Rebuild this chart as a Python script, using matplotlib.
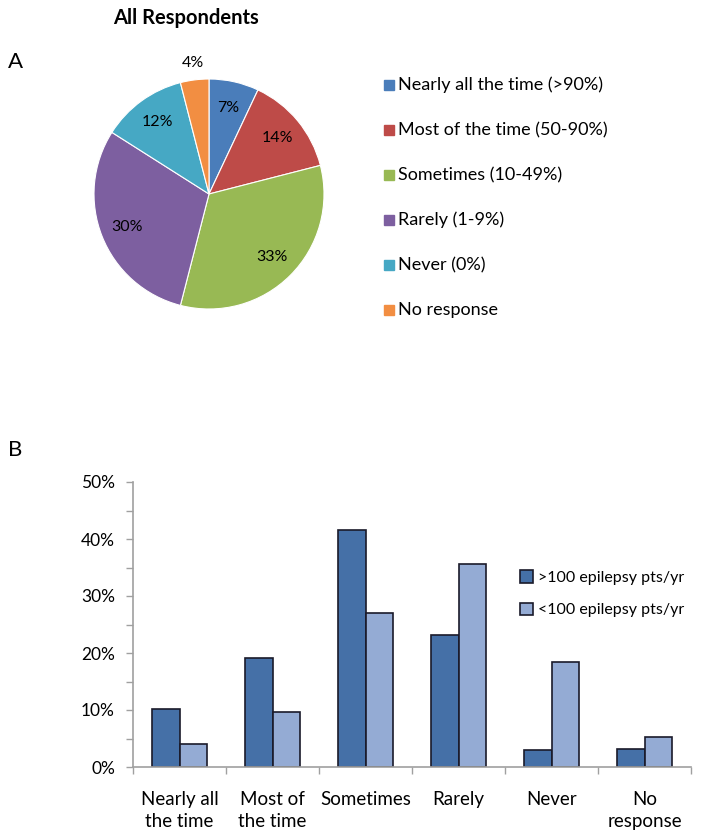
import numpy as np
import matplotlib
matplotlib.use("Agg")
import matplotlib.pyplot as plt

plt.rcParams['font.family'] = ['Lato', 'DejaVu Sans']

# ---- data ----
pie_labels = ["Nearly all the time (>90%)", "Most of the time (50-90%)",
              "Sometimes (10-49%)", "Rarely (1-9%)", "Never (0%)", "No response"]
pie_values = [7, 14, 33, 30, 12, 4]
pie_colors = ["#4A7DBA", "#BE4B48", "#98B954", "#7D5FA0", "#46A8C4", "#F28E42"]

bar_categories = ["Nearly all\nthe time", "Most of\nthe time", "Sometimes",
                  "Rarely", "Never", "No\nresponse"]
series_high = [10.1, 19.1, 41.5, 23.1, 2.9, 3.1]   # >100 epilepsy pts/yr
series_low = [4.1, 9.6, 27.0, 35.6, 18.4, 5.2]     # <100 epilepsy pts/yr
series_names = [">100 epilepsy pts/yr", "<100 epilepsy pts/yr"]
y_ticks = [0, 10, 20, 30, 40, 50]

W, H = 701, 839
fig = plt.figure(figsize=(W / 100, H / 100), dpi=100)

def box(l, t, r, b):
    return [l / W, 1 - b / H, (r - l) / W, (b - t) / H]

# ---- Pie ----
axp = fig.add_axes(box(94, 79, 324, 309))
wedges, _ = axp.pie(pie_values, colors=pie_colors, startangle=90, counterclock=False,
                    radius=1.0, wedgeprops=dict(edgecolor="white", linewidth=0.8))
axp.set_xlim(-1, 1)
axp.set_ylim(-1, 1)
axp.set_aspect("equal")
axp.axis("off")
for w, v in zip(wedges, pie_values):
    ang = np.deg2rad((w.theta1 + w.theta2) / 2)
    d = 1.15 if v < 5 else 0.77
    axp.text(d * np.cos(ang), d * np.sin(ang), f"{v}%", ha="center", va="center",
             fontsize=11.5, color="black")

fig.text(113 / W, 1 - 18 / H, "All Respondents", fontsize=14.5, fontweight="bold",
         ha="left", va="center")
fig.text(8 / W, 1 - 62 / H, "A", fontsize=16, ha="left", va="center")
fig.text(8 / W, 1 - 450 / H, "B", fontsize=16, ha="left", va="center")

# legend for pie
leg_y = [85, 130, 175, 220, 265, 310]
for lbl, c, yy in zip(pie_labels, pie_colors, leg_y):
    fig.patches.append(plt.Rectangle((384 / W, 1 - (yy + 5) / H), 10 / W, 10 / H,
                                     color=c, transform=fig.transFigure))
    fig.text(398 / W, 1 - yy / H, lbl, fontsize=13, ha="left", va="center")

# ---- Bar chart ----
axb = fig.add_axes(box(133, 482, 691, 767))
x = np.arange(len(bar_categories))
bw = 0.295
dark = "#4570A7"
light = "#94ABD4"
axb.bar(x - bw / 2, series_high, bw, color=dark, edgecolor="#1a1a2a", linewidth=1.2,
        label=series_names[0])
axb.bar(x + bw / 2, series_low, bw, color=light, edgecolor="#1a1a2a", linewidth=1.2,
        label=series_names[1])
axb.set_xlim(-0.5, len(bar_categories) - 0.5)
axb.set_ylim(0, 50)
axb.set_yticks(y_ticks)
axb.set_yticklabels([f"{t}%" for t in y_ticks], fontsize=12.5)
axb.set_yticks(np.arange(5, 50, 10), minor=True)
axb.set_xticks(np.arange(-0.5, len(bar_categories) + 0.5, 1))
axb.set_xticklabels([])
axb.set_xticks(x, minor=True)
axb.set_xticklabels(bar_categories, minor=True, fontsize=13.5, linespacing=1.4)
axb.tick_params(axis="x", which="minor", length=0, pad=17)
axb.tick_params(axis="x", which="major", length=5, color="#a0a0a0", width=1)
axb.tick_params(axis="y", which="both", length=5, color="#a0a0a0", width=1, pad=8)
for s in ["top", "right"]:
    axb.spines[s].set_visible(False)
for s in ["left", "bottom"]:
    axb.spines[s].set_color("#a0a0a0")
    axb.spines[s].set_linewidth(1.2)

axb.legend(loc="upper left", bbox_to_anchor=((514 - 133) / (691 - 133), 1 - (564 - 482) / (767 - 482)),
           frameon=False, fontsize=11.5, handlelength=0.8, handleheight=0.8,
           handletextpad=0.3, labelspacing=1.1, borderaxespad=0)

fig.savefig("out.png", dpi=100)
